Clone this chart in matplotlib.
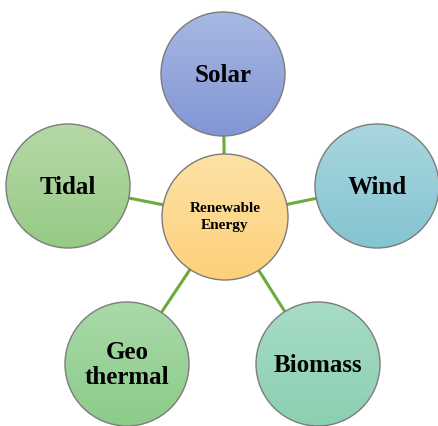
import matplotlib.pyplot as plt
import numpy as np
from matplotlib.patches import Circle

# labels of the diagram
center_label = 'Renewable\nEnergy'
labels = ['Solar', 'Wind', 'Biomass', 'Geo\nthermal', 'Tidal']

# gradient colours (top, bottom) for each node
center_colors = ('#fee2a6', '#fdd07a')
node_colors = [('#a8b8e2', '#8296d4'),
               ('#a9d6de', '#84c4d1'),
               ('#a7dcc6', '#8bcfb1'),
               ('#a9d9a9', '#8bcc88'),
               ('#b6d9a7', '#97ca85')]

# layout in pixel coordinates
W, H = 439, 426
center_xy = (225, 217)
center_r = 63
node_xy = [(223, 74), (377, 186), (318, 364), (127, 364), (68, 186)]
node_r = 62

fig = plt.figure(figsize=(W / 100, H / 100), dpi=100)
ax = fig.add_axes([0, 0, 1, 1])
ax.set_xlim(0, W)
ax.set_ylim(H, 0)
ax.set_aspect('equal')
ax.axis('off')


def gradient_circle(xy, r, colors, z):
    c = Circle(xy, r, facecolor='none', edgecolor='#7c7c7c', lw=1.0, zorder=z + 1)
    ax.add_patch(c)
    top = np.array(plt.matplotlib.colors.to_rgb(colors[0]))
    bot = np.array(plt.matplotlib.colors.to_rgb(colors[1]))
    t = np.linspace(0, 1, 100)[:, None]
    img = (top * (1 - t) + bot * t)[:, None, :]
    im = ax.imshow(img, extent=(xy[0] - r, xy[0] + r, xy[1] + r, xy[1] - r),
                   aspect='auto', zorder=z, interpolation='bilinear')
    im.set_clip_path(c)


for xy in node_xy:
    ax.plot([center_xy[0], xy[0]], [center_xy[1], xy[1]],
            color='#6aab3c', lw=2.2, zorder=1, solid_capstyle='butt')

gradient_circle(center_xy, center_r, center_colors, 3)
ax.text(center_xy[0], center_xy[1], center_label, ha='center', va='center',
        family='Liberation Serif', weight='bold', fontsize=11, linespacing=1.3, zorder=6)

for xy, lab, cols in zip(node_xy, labels, node_colors):
    gradient_circle(xy, node_r, cols, 3)
    ax.text(xy[0], xy[1] + 1, lab, ha='center', va='center',
            family='Liberation Serif', weight='bold', fontsize=18, linespacing=1.15, zorder=6)

fig.savefig('out.png', dpi=100)
